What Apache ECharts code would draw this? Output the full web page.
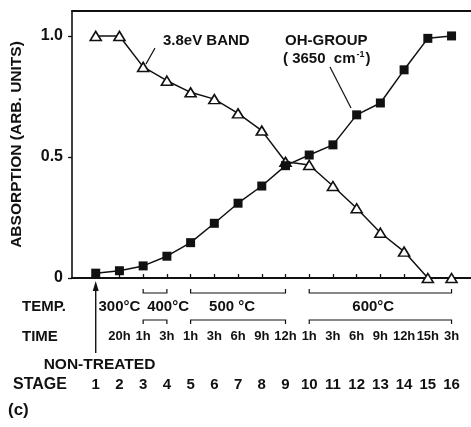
<!DOCTYPE html>
<html>
<head>
<meta charset="utf-8">
<script src="https://cdn.jsdelivr.net/npm/echarts@6/dist/echarts.min.js"></script>
<style>
  html, body { margin: 0; padding: 0; background: #fff; }
  #chart { width: 471px; height: 427px; }
</style>
</head>
<body>
<div id="chart"></div>
<script>
// Annealing stages and the two absorption curves
const stages = [1, 2, 3, 4, 5, 6, 7, 8, 9, 10, 11, 12, 13, 14, 15, 16];
const band38 = [1.0, 1.0, 0.872, 0.815, 0.767, 0.739, 0.68, 0.609, 0.48, 0.467, 0.38, 0.288, 0.187, 0.109, 0.0, 0.0];
const ohGroup = [0.02, 0.03, 0.05, 0.09, 0.146, 0.226, 0.309, 0.38, 0.464, 0.508, 0.55, 0.674, 0.723, 0.86, 0.99, 1.0];

// Tick labels
const stageLabels = ['1', '2', '3', '4', '5', '6', '7', '8', '9', '10', '11', '12', '13', '14', '15', '16'];
const timeLabels = ['', '20h', '1h', '3h', '1h', '3h', '6h', '9h', '12h', '1h', '3h', '6h', '9h', '12h', '15h', '3h'];
const yTicks = [0, 0.5, 1.0];
const yTickLabels = ['0', '0.5', '1.0'];

// Treatment temperatures and the stages they cover
const tempNames = ['300°C', '400°C', '500 °C', '600°C'];
const tempFrom = [2, 3, 5, 10];
const tempTo = [2, 4, 9, 16];

const FONT = '"Liberation Sans", Arial, Helvetica, sans-serif';
const INK = '#111';
const X_MAX = 16.82;
const Y_MAX = 1.103;

const chart = echarts.init(document.getElementById('chart'), null, { renderer: 'canvas' });

const baseX = { type: 'value', min: 0, max: X_MAX, gridIndex: 0, splitLine: { show: false } };

chart.setOption({
  animation: false,
  backgroundColor: '#fff',
  grid: { left: 72, right: 0, top: 11, bottom: 149, containLabel: false, outerBoundsMode: 'none' },
  xAxis: [
    Object.assign({}, baseX, {
      position: 'bottom',
      axisLine: { show: true, onZero: false, lineStyle: { color: INK, width: 2 } },
      axisTick: { show: true, inside: true, length: 4, customValues: stages, lineStyle: { color: INK, width: 1.3 } },
      axisLabel: {
        show: true, customValues: stages, margin: 99,
        formatter: v => stageLabels[stages.indexOf(v)] || '',
        color: INK, fontFamily: FONT, fontWeight: 'bold', fontSize: 15
      }
    }),
    Object.assign({}, baseX, {
      position: 'bottom',
      axisLine: { show: false },
      axisTick: { show: false },
      axisLabel: {
        show: true, customValues: stages, margin: 52,
        formatter: v => timeLabels[stages.indexOf(v)] || '',
        color: INK, fontFamily: FONT, fontWeight: 'bold', fontSize: 13
      }
    }),
    Object.assign({}, baseX, {
      position: 'top',
      axisLine: { show: true, onZero: false, lineStyle: { color: INK, width: 2 } },
      axisTick: { show: false },
      axisLabel: { show: false }
    })
  ],
  yAxis: {
    type: 'value', min: 0, max: Y_MAX,
    name: 'ABSORPTION (ARB. UNITS)',
    nameLocation: 'middle', nameRotate: 90, nameGap: 47,
    nameTextStyle: { color: INK, fontFamily: FONT, fontWeight: 'bold', fontSize: 15.5 },
    axisLine: { show: true, onZero: false, lineStyle: { color: INK, width: 1.6 } },
    axisTick: { show: true, inside: false, length: 4, customValues: yTicks, lineStyle: { color: INK, width: 1.3 } },
    axisLabel: {
      show: true, customValues: yTicks, margin: 9,
      formatter: v => yTickLabels[yTicks.indexOf(v)] || '',
      color: INK, fontFamily: FONT, fontWeight: 'bold', fontSize: 16
    },
    splitLine: { show: false }
  },
  series: [
    {
      name: '3.8eV BAND', type: 'line', xAxisIndex: 0,
      data: stages.map((s, i) => [s, band38[i]]),
      symbol: 'triangle', symbolSize: [11, 9],
      lineStyle: { color: INK, width: 1.5 },
      itemStyle: { color: '#fff', borderColor: INK, borderWidth: 1.6 },
      z: 2
    },
    {
      name: 'OH-GROUP', type: 'line', xAxisIndex: 0,
      data: stages.map((s, i) => [s, ohGroup[i]]),
      symbol: 'rect', symbolSize: 9,
      lineStyle: { color: INK, width: 1.5 },
      itemStyle: { color: INK, borderColor: INK, borderWidth: 0 },
      z: 3
    }
  ]
});

// Annotations below the axis, placed through the stage axis scale
const px = v => chart.convertToPixel({ xAxisIndex: 0 }, v);
const tempLabelAt = [2, 4.05, 6.75, 12.7];
const txt = (x, y, text, size, align, extra) => ({
  type: 'text', x, y, silent: true,
  style: Object.assign({
    text, fill: INK, font: 'bold ' + size + 'px ' + FONT,
    align: align || 'center', verticalAlign: 'middle'
  }, extra || {})
});
const line = (pts, w) => ({
  type: 'polyline', silent: true,
  shape: { points: pts },
  style: { stroke: INK, lineWidth: w || 1.2, fill: null }
});

const g = [];
tempNames.forEach((name, i) => {
  g.push(txt(px(tempLabelAt[i]), 307, name, 15));
  if (tempTo[i] > tempFrom[i]) {
    const a = px(tempFrom[i]), b = px(tempTo[i]);
    g.push(line([[a, 289], [a, 293], [b, 293], [b, 289]]));
    g.push(line([[a, 324], [a, 320], [b, 320], [b, 324]]));
  }
});

// Arrow marking the untreated sample
const x1 = px(stages[0]);
g.push(line([[x1, 353], [x1, 287]], 1.4));
g.push({ type: 'polygon', silent: true, shape: { points: [[x1 - 3, 291], [x1 + 3, 291], [x1, 281]] }, style: { fill: INK } });
g.push(txt(99.5, 365, 'NON-TREATED', 15.5));

// Row captions
g.push(txt(22, 307, 'TEMP.', 15, 'left'));
g.push(txt(22, 337, 'TIME', 15, 'left', { textLetterSpacing: 2 }));
g.push(txt(13, 385, 'STAGE', 16, 'left'));
g.push(txt(8, 410, '(c)', 17, 'left'));

// Curve labels with leader lines
g.push(txt(163, 41, '3.8eV BAND', 15, 'left'));
g.push(line([[155, 48], [146, 64]], 1.2));
g.push(txt(285, 41, 'OH-GROUP', 15, 'left'));
g.push({
  type: 'text', x: 283, y: 59, silent: true,
  style: {
    text: '{a|( 3650  cm}{s|-1}{a|)}',
    verticalAlign: 'middle', align: 'left',
    rich: {
      a: { fill: INK, font: 'bold 15px ' + FONT },
      s: { fill: INK, font: 'bold 9px ' + FONT, verticalAlign: 'top', padding: [0, 1, 8, 1] }
    }
  }
});
g.push(line([[330, 67], [351, 108]], 1.2));

chart.setOption({ graphic: { elements: g } });
</script>
</body>
</html>
